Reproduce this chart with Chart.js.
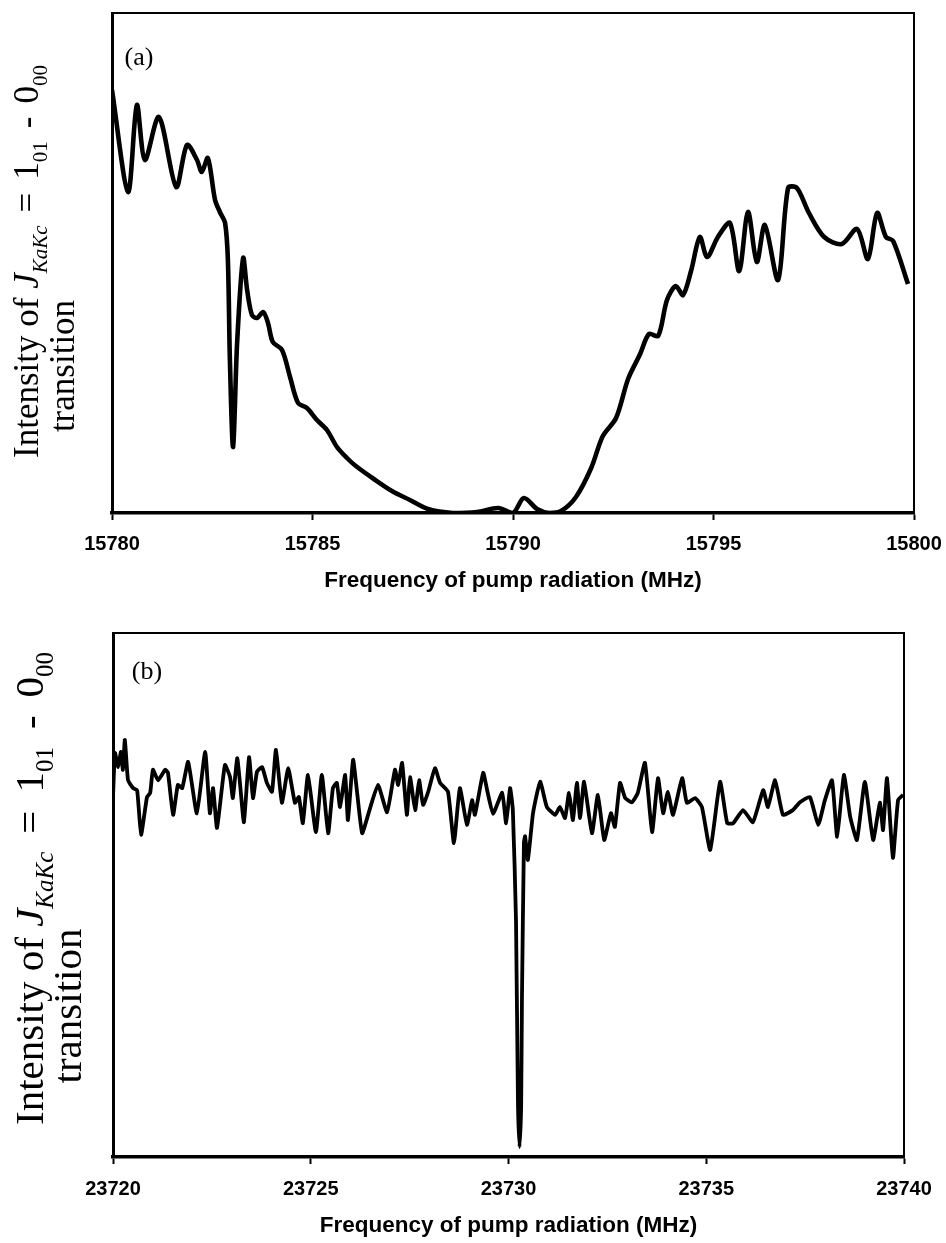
<!DOCTYPE html>
<html>
<head>
<meta charset="utf-8">
<script src="https://cdn.jsdelivr.net/npm/chart.js@4.4.1/dist/chart.umd.min.js"></script>
<style>
    html, body { margin: 0; padding: 0; background: #fff; }
    #page { position: relative; width: 946px; height: 1243px; }
    .panel { position: absolute; left: 0; width: 946px; }
    #wrapA { top: 0; height: 600px; }
    #wrapB { top: 600px; height: 643px; }
</style>
</head>
<body>
<div id="page">
    <div class="panel" id="wrapA"><canvas id="chartA"></canvas></div>
    <div class="panel" id="wrapB"><canvas id="chartB"></canvas></div>
</div>
<script>
// panel (a): pump scan around 15790 MHz
const freqA = [
    15780.00, 15780.40, 15780.62, 15780.82, 15781.17, 15781.60, 15781.87, 15782.12, 15782.24, 15782.39,
    15782.57, 15782.69, 15782.82, 15782.89, 15782.94, 15783.02, 15783.12, 15783.27, 15783.37, 15783.49,
    15783.62, 15783.77, 15783.89, 15784.01, 15784.24, 15784.44, 15784.64, 15784.86, 15785.11, 15785.36,
    15785.61, 15785.86, 15786.08, 15786.53, 15786.98, 15787.43, 15787.88, 15788.50, 15789.10, 15789.63,
    15790.00, 15790.27, 15790.60, 15790.90, 15791.20, 15791.57, 15791.95, 15792.24, 15792.57, 15792.87,
    15793.17, 15793.39, 15793.62, 15793.84, 15794.06, 15794.24, 15794.44, 15794.66, 15794.84, 15795.11,
    15795.41, 15795.64, 15795.86, 15796.08, 15796.28, 15796.61, 15796.86, 15797.08, 15797.38, 15797.76,
    15798.20, 15798.58, 15798.85, 15799.08, 15799.30, 15799.48, 15799.85,
];
const intensityA = [
    0.846, 0.642, 0.816, 0.706, 0.792, 0.652, 0.736, 0.706, 0.682, 0.710,
    0.626, 0.602, 0.580, 0.506, 0.306, 0.132, 0.340, 0.510, 0.446, 0.396,
    0.390, 0.402, 0.380, 0.342, 0.326, 0.272, 0.220, 0.210, 0.186, 0.166,
    0.132, 0.110, 0.094, 0.068, 0.044, 0.026, 0.008, 0.000, 0.002, 0.010,
    0.000, 0.030, 0.008, 0.000, 0.004, 0.032, 0.090, 0.154, 0.190, 0.268,
    0.318, 0.358, 0.354, 0.426, 0.454, 0.436, 0.484, 0.552, 0.512, 0.552,
    0.580, 0.484, 0.602, 0.502, 0.576, 0.466, 0.650, 0.650, 0.600, 0.552,
    0.538, 0.568, 0.508, 0.600, 0.552, 0.544, 0.458,
];
const tickLabelsA = ['15780', '15785', '15790', '15795', '15800'];

// panel (b): pump scan around 23730 MHz
const freqB = [
    23720.00, 23720.05, 23720.13, 23720.20, 23720.25, 23720.30, 23720.38, 23720.51, 23720.61, 23720.71,
    23720.86, 23720.94, 23721.01, 23721.14, 23721.32, 23721.39, 23721.52, 23721.64, 23721.75, 23721.90,
    23722.12, 23722.33, 23722.45, 23722.53, 23722.63, 23722.83, 23722.96, 23723.03, 23723.14, 23723.21,
    23723.31, 23723.44, 23723.54, 23723.64, 23723.77, 23723.89, 23724.02, 23724.12, 23724.27, 23724.43,
    23724.60, 23724.70, 23724.80, 23724.93, 23725.13, 23725.28, 23725.44, 23725.56, 23725.66, 23725.74,
    23725.87, 23725.94, 23726.07, 23726.17, 23726.30, 23726.45, 23726.70, 23726.93, 23727.13, 23727.21,
    23727.31, 23727.43, 23727.51, 23727.64, 23727.74, 23727.84, 23727.97, 23728.14, 23728.27, 23728.47,
    23728.62, 23728.77, 23728.95, 23729.08, 23729.15, 23729.36, 23729.46, 23729.61, 23729.84, 23729.94,
    23730.04, 23730.11, 23730.19, 23730.24, 23730.28, 23730.32, 23730.34, 23730.39, 23730.42, 23730.49,
    23730.62, 23730.80, 23730.97, 23731.18, 23731.30, 23731.43, 23731.53, 23731.63, 23731.73, 23731.81,
    23731.91, 23732.11, 23732.26, 23732.42, 23732.59, 23732.69, 23732.82, 23732.95, 23733.12, 23733.27,
    23733.45, 23733.63, 23733.78, 23733.91, 23734.03, 23734.16, 23734.39, 23734.51, 23734.72, 23734.89,
    23735.10, 23735.35, 23735.53, 23735.68, 23735.93, 23736.18, 23736.44, 23736.56, 23736.74, 23736.94,
    23737.19, 23737.37, 23737.62, 23737.83, 23738.00, 23738.18, 23738.31, 23738.48, 23738.64, 23738.81,
    23739.01, 23739.22, 23739.39, 23739.47, 23739.57, 23739.72, 23739.85, 23739.98,
];
const intensityB = [
    0.687, 0.771, 0.744, 0.773, 0.739, 0.796, 0.719, 0.704, 0.700, 0.615,
    0.687, 0.695, 0.739, 0.719, 0.739, 0.733, 0.653, 0.710, 0.704, 0.754,
    0.656, 0.773, 0.656, 0.704, 0.628, 0.748, 0.725, 0.685, 0.761, 0.714,
    0.639, 0.763, 0.685, 0.735, 0.744, 0.714, 0.697, 0.777, 0.676, 0.742,
    0.676, 0.687, 0.637, 0.729, 0.620, 0.729, 0.618, 0.704, 0.714, 0.668,
    0.729, 0.643, 0.758, 0.697, 0.618, 0.653, 0.710, 0.658, 0.739, 0.710,
    0.752, 0.653, 0.725, 0.662, 0.719, 0.672, 0.697, 0.742, 0.714, 0.697,
    0.599, 0.704, 0.634, 0.681, 0.653, 0.733, 0.700, 0.655, 0.695, 0.637,
    0.704, 0.662, 0.450, 0.100, 0.019, 0.100, 0.300, 0.600, 0.612, 0.567,
    0.656, 0.716, 0.668, 0.653, 0.668, 0.647, 0.695, 0.643, 0.714, 0.647,
    0.716, 0.618, 0.691, 0.605, 0.656, 0.630, 0.714, 0.685, 0.677, 0.695,
    0.752, 0.620, 0.723, 0.656, 0.697, 0.653, 0.723, 0.676, 0.685, 0.668,
    0.586, 0.716, 0.637, 0.637, 0.662, 0.639, 0.700, 0.668, 0.719, 0.653,
    0.662, 0.677, 0.687, 0.634, 0.681, 0.719, 0.611, 0.729, 0.649, 0.605,
    0.716, 0.605, 0.676, 0.624, 0.723, 0.571, 0.681, 0.691,
];
const tickLabelsB = ['23720', '23725', '23730', '23735', '23740'];

const xTitle = 'Frequency of pump radiation (MHz)';

const serif = '"Liberation Serif", "Times New Roman", serif';
const sans = '"Liberation Sans", Arial, sans-serif';

// y title pieces: [text, italic, subscript, wide gap after]
const yTitlePieces = [
    ['Intensity of ', false, false, false],
    ['J', true, false, false],
    ['KaKc', true, true, true],
    ['=', false, false, true],
    ['1', false, false, false],
    ['01', false, true, true],
    ['-', false, false, true],
    ['0', false, false, false],
    ['00', false, true, false],
];

function drawYTitle(ctx, o) {
    ctx.save();
    ctx.fillStyle = '#000';
    ctx.textBaseline = 'alphabetic';
    ctx.textAlign = 'left';

    ctx.save();
    ctx.translate(o.line1X, o.line1Start);
    ctx.rotate(-Math.PI / 2);
    let pos = 0;
    yTitlePieces.forEach(([text, italic, sub, wide]) => {
        const size = sub ? o.subSize : o.size;
        ctx.font = `${italic ? 'italic ' : ''}${size}px ${serif}`;
        ctx.fillText(text, pos, sub ? o.subShift : 0);
        pos += ctx.measureText(text).width + (wide ? o.gap : 0);
    });
    ctx.restore();

    ctx.save();
    ctx.translate(o.line2X, o.line2Center);
    ctx.rotate(-Math.PI / 2);
    ctx.textAlign = 'center';
    ctx.font = `${o.size}px ${serif}`;
    ctx.fillText('transition', 0, 0);
    ctx.restore();

    ctx.restore();
}

const framePlugin = {
    id: 'frame',
    afterDraw(chart, args, opts) {
        const { ctx, chartArea } = chart;
        const { left, top, right, bottom } = chartArea;
        ctx.save();
        ctx.strokeStyle = '#000';
        ctx.lineWidth = 2;
        ctx.beginPath();
        ctx.moveTo(left, top);
        ctx.lineTo(right, top);
        ctx.lineTo(right, bottom);
        ctx.stroke();

        ctx.fillStyle = '#000';
        ctx.font = `26px ${serif}`;
        ctx.textAlign = 'center';
        ctx.textBaseline = 'middle';
        ctx.fillText(opts.letter, left + opts.letterDx, top + opts.letterDy);
        ctx.restore();

        drawYTitle(ctx, opts.yTitle);
    },
};

function makeChart(canvasId, freq, intensity, tickLabels, cfg) {
    const canvas = document.getElementById(canvasId);
    return new Chart(canvas, {
        type: 'line',
        data: {
            datasets: [
                {
                    data: freq.map((f, i) => ({ x: f, y: intensity[i] })),
                    borderColor: '#000',
                    borderWidth: cfg.lineWidth,
                    pointRadius: 0,
                    tension: cfg.tension,
                    fill: false,
                },
            ],
        },
        options: {
            responsive: true,
            maintainAspectRatio: false,
            animation: false,
            layout: {
                padding: cfg.padding,
            },
            plugins: {
                legend: { display: false },
                tooltip: { enabled: false },
                frame: cfg.frame,
            },
            scales: {
                x: {
                    type: 'linear',
                    min: cfg.xMin,
                    max: cfg.xMax,
                    afterFit: (scale) => {
                        scale.height = cfg.xAxisHeight;
                        scale.paddingLeft = 0;
                        scale.paddingRight = 0;
                    },
                    afterBuildTicks: (scale) => {
                        scale.ticks = tickLabels.map((_, i) => ({ value: cfg.xMin + i * 5 }));
                    },
                    ticks: {
                        color: '#000',
                        padding: cfg.tickPadding,
                        maxRotation: 0,
                        autoSkip: false,
                        font: { family: sans, size: 20, weight: 'bold' },
                        callback: (value, index) => tickLabels[index],
                    },
                    grid: {
                        drawOnChartArea: false,
                        color: '#000',
                        tickLength: 7,
                        tickWidth: 2,
                    },
                    border: { display: true, color: '#000', width: 3.5 },
                    title: {
                        display: true,
                        text: xTitle,
                        color: '#000',
                        padding: { top: 0, bottom: cfg.titlePad },
                        font: { family: sans, size: 22.5, weight: 'bold' },
                    },
                },
                y: {
                    min: 0,
                    max: 1,
                    afterFit: (scale) => {
                        scale.width = cfg.yAxisWidth;
                    },
                    ticks: { display: false },
                    grid: { display: false },
                    border: { display: true, color: '#000', width: 3 },
                },
            },
        },
        plugins: [framePlugin],
    });
}

makeChart('chartA', freqA, intensityA, tickLabelsA, {
    xMin: 15780,
    xMax: 15800,
    lineWidth: 4.6,
    tension: 0.3,
    padding: { top: 13, right: 32, bottom: 0, left: 0 },
    xAxisHeight: 87,
    yAxisWidth: 112,
    tickPadding: 12,
    titlePad: 6,
    frame: {
        letter: '(a)',
        letterDx: 27,
        letterDy: 45,
        yTitle: { size: 35, subSize: 21, subShift: 9, gap: 13, line1X: 38, line1Start: 458, line2X: 74, line2Center: 366 },
    },
});

makeChart('chartB', freqB, intensityB, tickLabelsB, {
    xMin: 23720,
    xMax: 23740,
    lineWidth: 3.8,
    tension: 0.15,
    padding: { top: 33, right: 42, bottom: 0, left: 0 },
    xAxisHeight: 86,
    yAxisWidth: 113,
    tickPadding: 13,
    titlePad: 4,
    frame: {
        letter: '(b)',
        letterDx: 34,
        letterDy: 39,
        yTitle: { size: 41, subSize: 25, subShift: 10, gap: 18, line1X: 43, line1Start: 525, line2X: 81, line2Center: 406 },
    },
});
</script>
</body>
</html>
